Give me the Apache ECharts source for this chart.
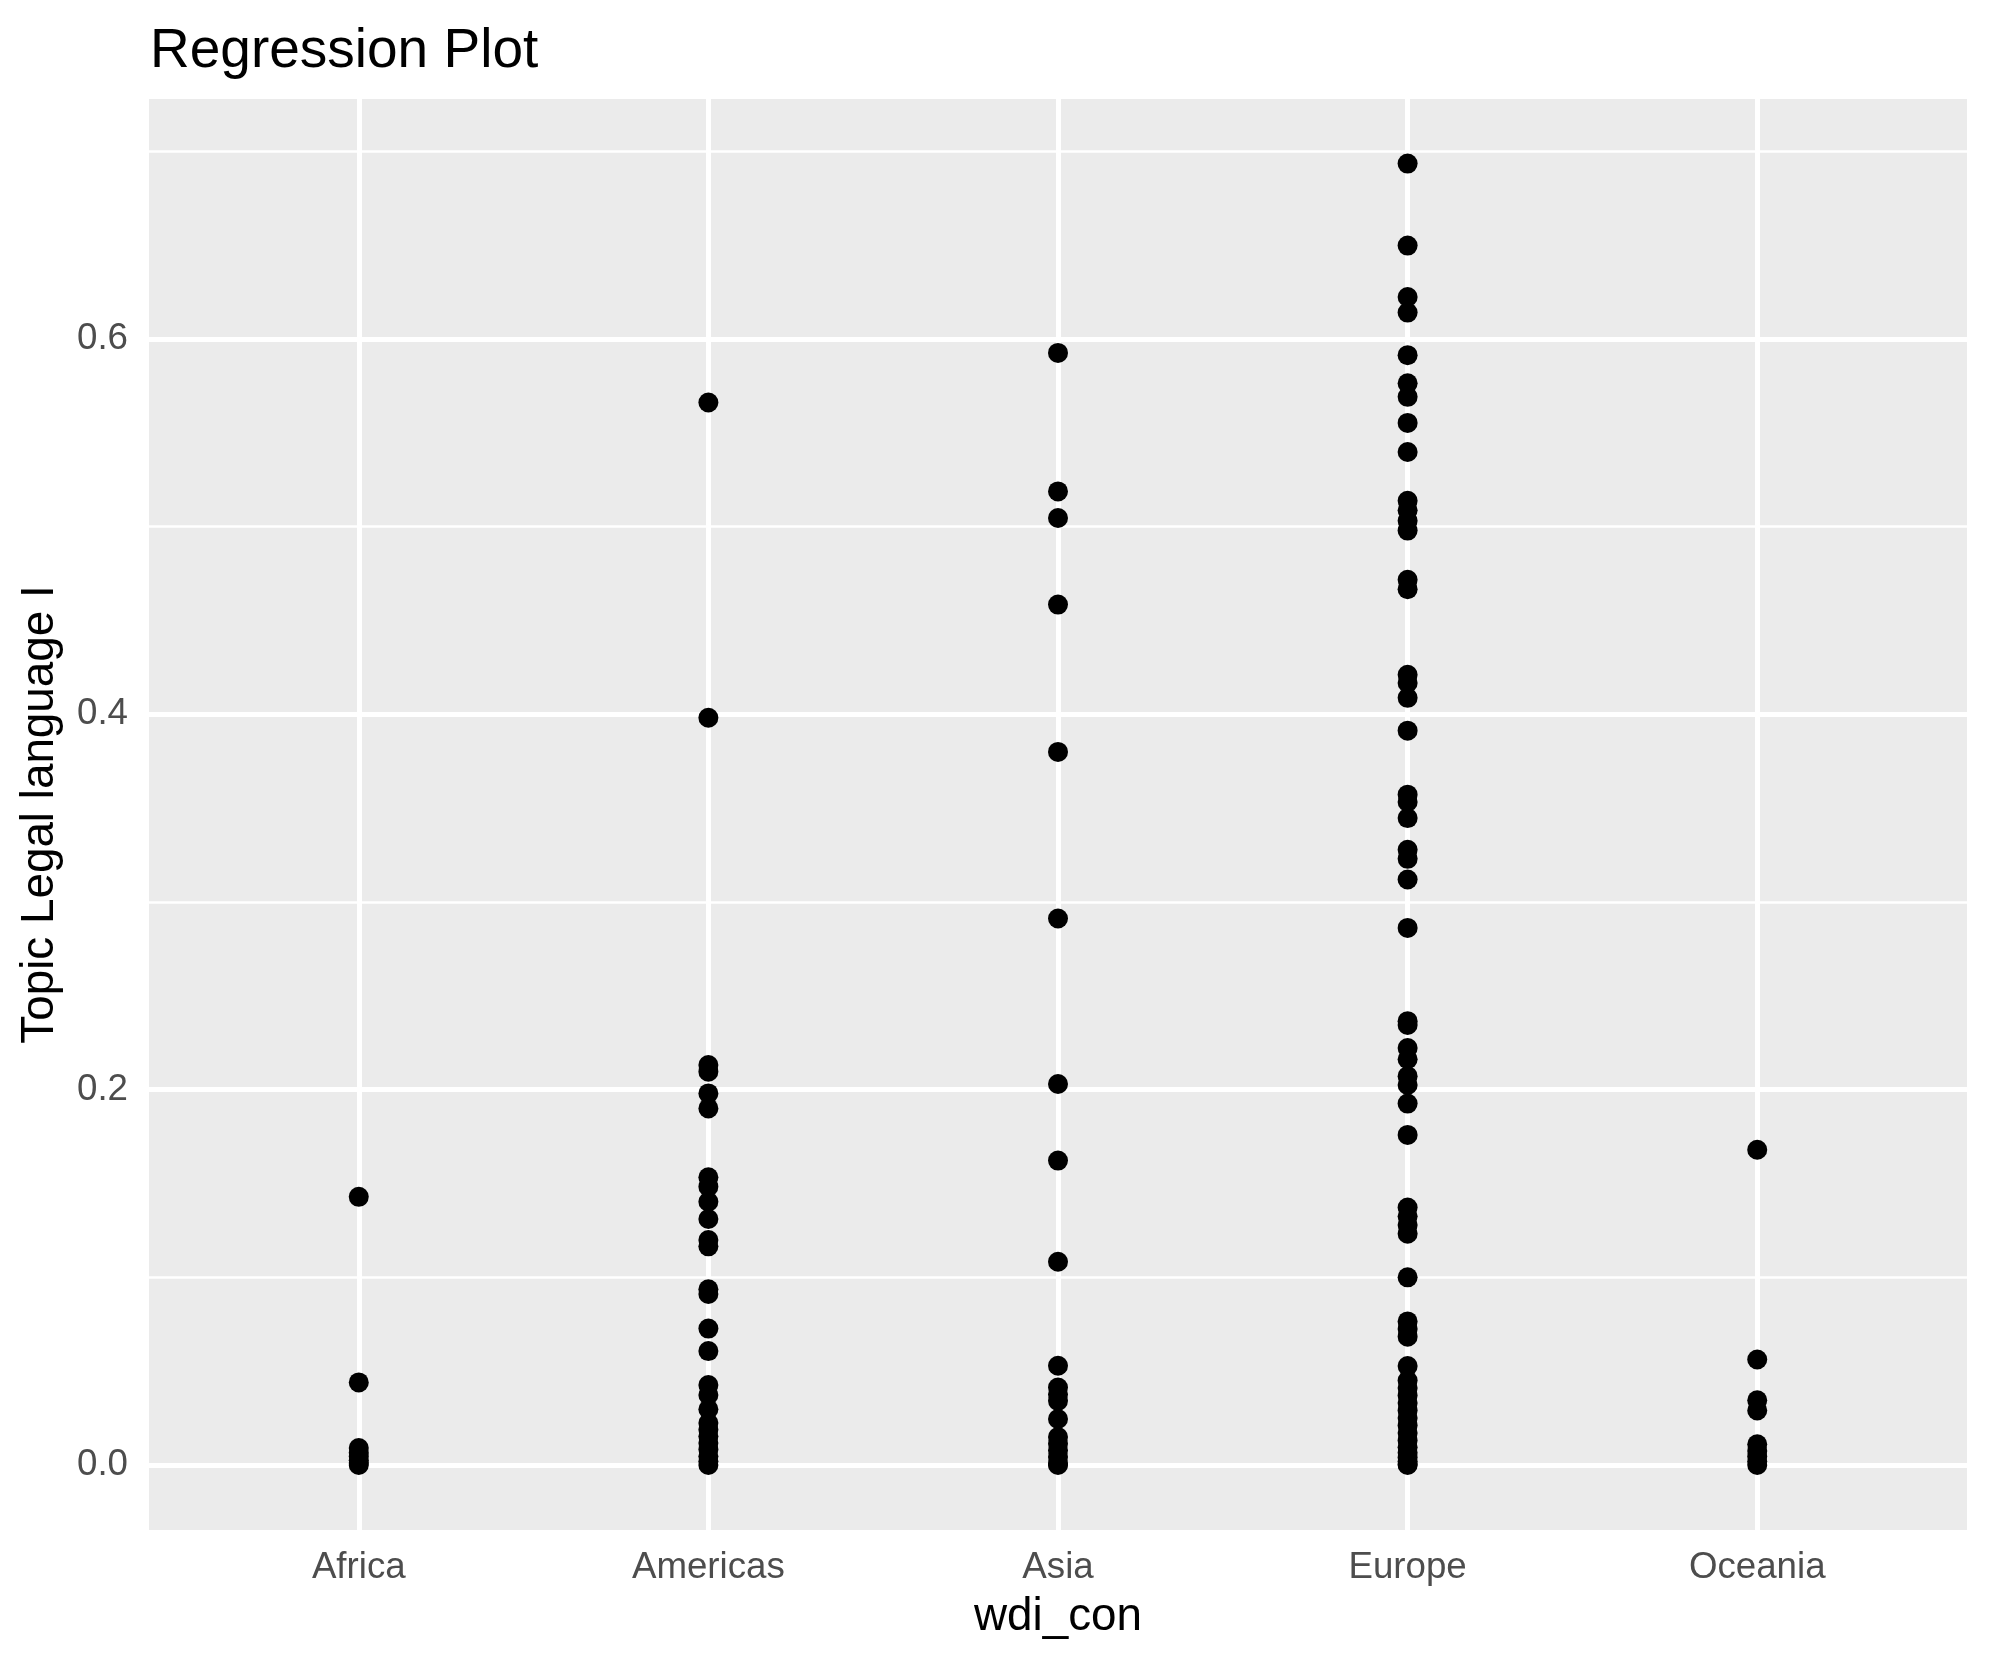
<!DOCTYPE html>
<html>
<head>
<meta charset="utf-8">
<script src="https://cdn.jsdelivr.net/npm/echarts@6/dist/echarts.min.js"></script>
<style>
html,body{margin:0;padding:0;background:#fff;}
#chart{width:1990px;height:1665px;}
</style>
</head>
<body>
<div id="chart"></div>
<script>
const categories = ['Africa', 'Americas', 'Asia', 'Europe', 'Oceania'];
const africaValues = [0.1429, 0.0440, 0.0090, 0.0065, 0.0045, 0.0025, 0.0010, 0.0];
const americasValues = [0.5662, 0.3982, 0.2131, 0.2096, 0.1980, 0.1900, 0.1533, 0.1483, 0.1403, 0.1311, 0.1199, 0.1165, 0.0936, 0.0911, 0.0727, 0.0607, 0.0426, 0.0373, 0.0297, 0.0224, 0.0188, 0.0153, 0.0117, 0.0082, 0.0046, 0.0020, 0.0];
const asiaValues = [0.5926, 0.5188, 0.5046, 0.4585, 0.3800, 0.2912, 0.2030, 0.1622, 0.1083, 0.0529, 0.0413, 0.0377, 0.0342, 0.0245, 0.0149, 0.0113, 0.0078, 0.0043, 0.0007, 0.0];
const europeValues = [0.6935, 0.6498, 0.6224, 0.6141, 0.5914, 0.5764, 0.5692, 0.5553, 0.5398, 0.5138, 0.5087, 0.5031, 0.4979, 0.4717, 0.4667, 0.4211, 0.4167, 0.4088, 0.3913, 0.3572, 0.3533, 0.3447, 0.3278, 0.3230, 0.3120, 0.2862, 0.2365, 0.2345, 0.2222, 0.2162, 0.2072, 0.2025, 0.1926, 0.1759, 0.1372, 0.1325, 0.1279, 0.1232, 0.1000, 0.0765, 0.0725, 0.0684, 0.0527, 0.0450, 0.0410, 0.0370, 0.0330, 0.0290, 0.0250, 0.0210, 0.0170, 0.0130, 0.0095, 0.0065, 0.0040, 0.0020, 0.0005, 0.0];
const oceaniaValues = [0.1680, 0.0562, 0.0345, 0.0291, 0.0110, 0.0075, 0.0045, 0.0020, 0.0];
const yMajorTicks = [0, 0.2, 0.4, 0.6];
const yMinorTicks = [0.1, 0.3, 0.5, 0.7];
const yRange = [-0.03464, 0.7279];
const xRange = [-0.6, 4.6];

const groups = [africaValues, americasValues, asiaValues, europeValues, oceaniaValues];
const points = [];
groups.forEach((vals, i) => vals.forEach(v => points.push([i, v])));
const catIdx = categories.map((c, i) => i);

const FONT = "'Liberation Sans', Arial, Helvetica, sans-serif";
const chart = echarts.init(document.getElementById('chart'), null, {renderer: 'canvas'});

const gridLines = [];
yMajorTicks.forEach(v => gridLines.push({yAxis: v, lineStyle: {color: '#ffffff', width: 5, type: 'solid'}}));
yMinorTicks.forEach(v => gridLines.push({yAxis: v, lineStyle: {color: '#ffffff', width: 2.5, type: 'solid'}}));
catIdx.forEach(v => gridLines.push({xAxis: v, lineStyle: {color: '#ffffff', width: 5, type: 'solid'}}));

chart.setOption({
  backgroundColor: '#ffffff',
  animation: false,
  title: {
    text: 'Regression Plot',
    left: 145,
    top: 19,
    textStyle: {fontFamily: FONT, fontSize: 55, fontWeight: 'normal', color: '#000000'}
  },
  grid: {
    left: 149, right: 23, top: 99, bottom: 135,
    show: true, backgroundColor: '#EBEBEB', borderWidth: 0,
    containLabel: false
  },
  xAxis: {
    type: 'value',
    min: xRange[0], max: xRange[1],
    name: 'wdi_con',
    nameLocation: 'middle',
    nameGap: 87,
    nameTextStyle: {fontFamily: FONT, fontSize: 45.8, color: '#000000', verticalAlign: 'middle'},
    axisLine: {show: false},
    axisTick: {show: true, customValues: catIdx, length: 11.5, lineStyle: {color: '#333333', width: 4.5}},
    axisLabel: {
      show: true, customValues: catIdx, margin: 19,
      fontFamily: FONT, fontSize: 36.7, color: '#4D4D4D',
      formatter: v => categories[Math.round(v)]
    },
    splitLine: {show: false}
  },
  yAxis: {
    type: 'value',
    min: yRange[0], max: yRange[1],
    name: 'Topic Legal language I',
    nameLocation: 'middle',
    nameGap: 109,
    nameRotate: 90,
    nameTextStyle: {fontFamily: FONT, fontSize: 45.8, color: '#000000', verticalAlign: 'middle'},
    axisLine: {show: false},
    axisTick: {show: true, customValues: yMajorTicks, length: 11.5, lineStyle: {color: '#333333', width: 5}},
    axisLabel: {
      show: true, customValues: yMajorTicks, margin: 21,
      fontFamily: FONT, fontSize: 36.7, color: '#4D4D4D',
      formatter: v => v.toFixed(1)
    },
    splitLine: {show: false}
  },
  series: [
    {
      type: 'line',
      data: [],
      z: 1,
      silent: true,
      markLine: {
        z: 1,
        silent: true,
        symbol: ['none', 'none'],
        label: {show: false},
        animation: false,
        data: gridLines
      }
    },
    {
      type: 'scatter',
      z: 10,
      symbol: 'circle',
      symbolSize: 20,
      itemStyle: {color: '#000000', opacity: 1},
      data: points
    }
  ]
});
</script>
</body>
</html>
